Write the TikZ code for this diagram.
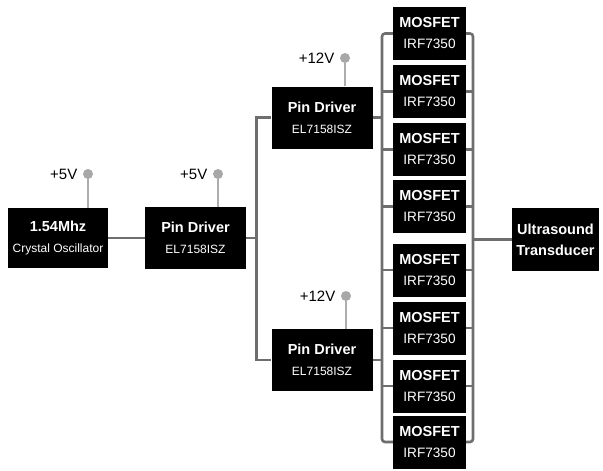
\documentclass[tikz,border=0pt]{standalone}
\usepackage{fontspec}
\setmainfont{Liberation Sans}
\usetikzlibrary{positioning, calc}

\newcommand{\partno}[1]{{\fontsize{12}{14}\selectfont\mdseries #1}}

\begin{document}
\begin{tikzpicture}[
		x=1pt, y=-1pt,
		blk/.style={fill=black, text=white, align=center, inner sep=0pt, font=\fontsize{14.5}{21}\selectfont\bfseries},
		fet/.style={blk, minimum width=73pt, minimum height=53pt},
		drv/.style={blk, minimum width=101pt, minimum height=62pt},
		wire/.style={draw=black!57, line width=2.6pt},
		stem/.style={draw=black!32, line width=2.4pt},
		dot/.style={circle, fill=black!34, inner sep=0pt, minimum size=10pt},
		volt/.style={font=\fontsize{15}{18}\selectfont, left=2pt of #1}
	]
	\useasboundingbox (0,0) rectangle (603,471);

	% boxes
	\node[drv, minimum width=100pt, minimum height=60pt] (osc) at (58,238) {1.54Mhz\\ \partno{Crystal Oscillator}};
	\node[drv] (drvA) at (195.5,238) {Pin Driver\\ \partno{EL7158ISZ}};
	\node[drv] (drvB) at (322,117.5) {Pin Driver\\ \partno{EL7158ISZ}};
	\node[drv] (drvC) at (322,360) {Pin Driver\\ \partno{EL7158ISZ}};
	\node[blk, minimum width=87pt, minimum height=63pt] (xdcr) at (555.5,239.5) {Ultrasound\\ Transducer};

	\foreach \i/\y in {1/33.5, 2/91.5, 3/149.5, 4/206.5, 5/270, 6/328, 7/386, 8/442}
		\node[fet] (m\i) at (429.5,\y) {MOSFET\\ {\fontsize{13.6}{16}\selectfont\mdseries IRF7350}};

	% supply pins
	\node[dot] (pOsc) at (88,174) {};
	\node[dot] (pA) at (218,174) {};
	\node[dot] (pB) at (345,58) {};
	\node[dot] (pC) at (346,296) {};
	\node[volt=pOsc] (vOsc) {+5V};
	\node[volt=pA] (vA) {+5V};
	\node[volt=pB] (vB) {+12V};
	\node[volt=pC] (vC) {+12V};
	\draw[stem] (pOsc) -- (pOsc |- osc.north);
	\draw[stem] (pA) -- (pA |- drvA.north);
	\draw[stem] (pB) -- (pB |- drvB.north);
	\draw[stem] (pC) -- (pC |- drvC.north);

	% wiring
	\coordinate (busL) at (382,240);
	\coordinate (busR) at (473,240);
	\draw[wire] (osc) -- (drvA);
	\draw[wire] (drvA.east) -- ++(10,0) coordinate (split) |- (drvB.west);
	\draw[wire] (split) |- (drvC.west);
	\draw[wire] (drvB.east) -- (drvB.east -| busL);
	\draw[wire] (drvC.east) -- (drvC.east -| busL);
	\draw[wire, rounded corners=3pt] (m1.west) -| (busL) |- (m8.west);
	\draw[wire, rounded corners=3pt] (m1.east) -| (busR) |- (m8.east);
	\foreach \i in {2,...,7} {
		\draw[wire] (m\i.west) -- (busL |- m\i.west);
		\draw[wire] (m\i.east) -- (busR |- m\i.east);
	}
	\draw[wire] (busR |- xdcr.west) -- (xdcr.west);
\end{tikzpicture}
\end{document}
